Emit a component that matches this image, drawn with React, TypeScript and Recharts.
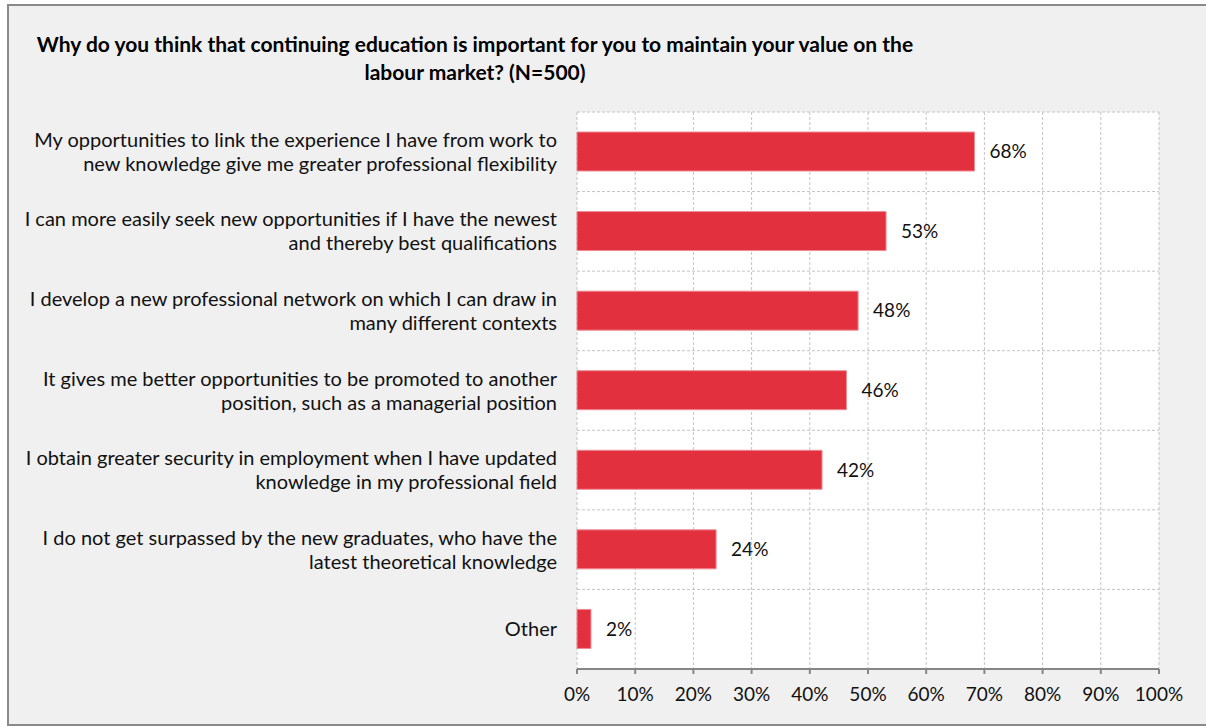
import React from 'react';
import { BarChart, Bar, XAxis, YAxis, CartesianGrid, LabelList } from 'recharts';

const categories: string[] = [
  'My opportunities to link the experience I have from work to\nnew knowledge give me greater professional flexibility',
  'I can more easily seek new opportunities if I have the newest\nand thereby best qualifications',
  'I develop a new professional network on which I can draw in\nmany different contexts',
  'It gives me better opportunities to be promoted to another\nposition, such as a managerial position',
  'I obtain greater security in employment when I have updated\nknowledge in my professional field',
  'I do not get surpassed by the new graduates, who have the\nlatest theoretical knowledge',
  'Other',
];
const values: number[] = [68.3, 53.1, 48.3, 46.3, 42.1, 23.9, 2.4];
const xTicks: number[] = [0, 10, 20, 30, 40, 50, 60, 70, 80, 90, 100];
const titleLines: string[] = [
  'Why do you think that continuing education is important for you to maintain your value on the',
  'labour market? (N=500)',
];

const data = categories.map((name, i) => ({ name, value: values[i] }));

const FONT = 'Lato, "Open Sans", sans-serif';

const YTick = (props: any) => {
  const { x, y, payload } = props;
  const lines: string[] = String(payload.value).split('\n');
  const lh = 24;
  const start = -((lines.length - 1) * lh) / 2;
  return (
    <text x={x} y={y} textAnchor="end" fontFamily={FONT} fontSize={20} fill="#111">
      {lines.map((l, i) => (
        <tspan key={i} x={x} y={y + start + i * lh} dy="0.35em">
          {l}
        </tspan>
      ))}
    </text>
  );
};

export default function App() {
  return (
    <div style={{ position: 'absolute', left: 0, top: 0, width: 1206, height: 726, overflow: 'hidden', background: '#fff' }}>
      <div
        style={{
          position: 'absolute',
          left: 7,
          top: 4,
          width: 1215,
          height: 722,
          boxSizing: 'border-box',
          border: '2px solid #8a8a8a',
          background: '#f0f0f0',
        }}
      />
      {titleLines.map((t, i) => (
        <div
          key={i}
          style={{
            position: 'absolute',
            left: 0,
            width: 950,
            top: 32 + i * 28,
            textAlign: 'center',
            fontFamily: FONT,
            fontWeight: 700,
            fontSize: 21,
            lineHeight: '24px',
            color: '#000',
            whiteSpace: 'nowrap',
          }}
        >
          {t}
        </div>
      ))}
      <div style={{ position: 'absolute', left: 0, top: 0 }}>
        <BarChart
          width={1206}
          height={726}
          data={data}
          layout="vertical"
          margin={{ top: 112, right: 47, bottom: 27, left: 0 }}
        >
          <CartesianGrid
            fill="#ffffff"
            stroke="#c4c4c4"
            strokeDasharray="3 2"
            horizontalCoordinatesGenerator={({ offset }: any) =>
              Array.from({ length: categories.length + 1 }, (_, i) => offset.top + (i * offset.height) / categories.length)
            }
          />
          <XAxis
            type="number"
            domain={[0, 100]}
            ticks={xTicks}
            interval={0}
            height={30}
            tickFormatter={(v: number) => `${v}%`}
            axisLine={{ stroke: '#868686', strokeWidth: 2 }}
            tickLine={{ stroke: '#868686', strokeWidth: 2 }}
            tickSize={5}
            tickMargin={14}
            tick={{ fontFamily: FONT, fontSize: 19, fill: '#111' }}
          />
          <YAxis
            type="category"
            dataKey="name"
            width={577}
            axisLine={false}
            tickLine={false}
            tickSize={0}
            tickMargin={20}
            interval={0}
            tick={<YTick />}
          />
          <Bar dataKey="value" fill="#e2303f" stroke="#ef8a93" strokeWidth={1} barSize={39} isAnimationActive={false}>
            <LabelList
              dataKey="value"
              position="right"
              offset={15}
              formatter={(v: any) => `${Math.round(Number(v))}%`}
              style={{ fontFamily: FONT, fontSize: 19, fill: '#111' }}
            />
          </Bar>
        </BarChart>
      </div>
    </div>
  );
}
